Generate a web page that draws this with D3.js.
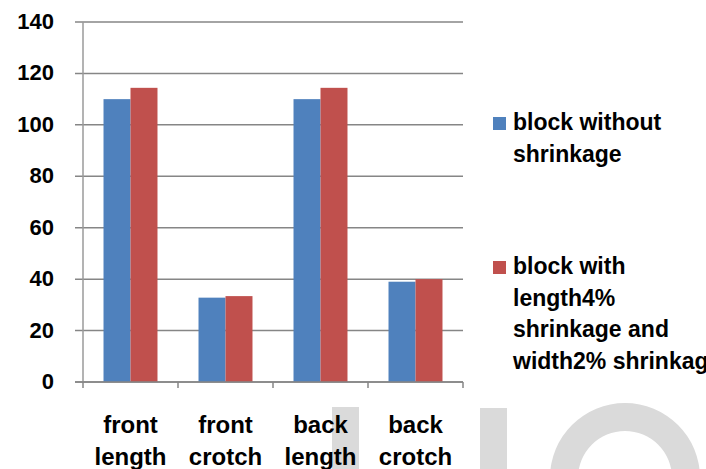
<!DOCTYPE html>
<html>
<head>
<meta charset="utf-8">
<script src="https://cdn.jsdelivr.net/npm/d3@7"></script>
<style>
  html, body { margin: 0; padding: 0; background: #fff; }
  svg { display: block; font-family: "Liberation Sans", Arial, sans-serif; }
</style>
</head>
<body>
<svg id="chart"></svg>
<script>
(function() {

// data
const categories = ["front length", "front crotch", "back length", "back crotch"];
const seriesNames = ["block without shrinkage", "block with length4% shrinkage and width2% shrinkage"];
const withoutShrinkage = [110, 32.8, 110, 39];
const withShrinkage = [114.4, 33.4, 114.4, 40];
const yTicks = [0, 20, 40, 60, 80, 100, 120, 140];
const legendLines = [
  ["block without", "shrinkage"],
  ["block with", "length4%", "shrinkage and", "width2% shrinkage"]
];

const W = 706, H = 469;
const plot = { left: 83, right: 463, top: 22, bottom: 382 };
const colors = ["#4f81bd", "#c0504d"];

const svg = d3.select("#chart")
    .attr("width", W)
    .attr("height", H);

// faint watermark pieces behind the chart
const wm = svg.append("g").attr("fill", "#dadada");
wm.append("rect").attr("x", 332).attr("y", 407).attr("width", 27).attr("height", 70);
wm.append("rect").attr("x", 480).attr("y", 408).attr("width", 27).attr("height", 70);
wm.append("path")
    .attr("transform", "translate(625,478)")
    .attr("d", d3.arc()({ innerRadius: 47, outerRadius: 75, startAngle: 0, endAngle: 2 * Math.PI }));

// scales
const x = d3.scaleBand()
    .domain(categories)
    .range([plot.left, plot.right])
    .padding(0);

const x1 = d3.scaleBand()
    .domain(d3.range(seriesNames.length))
    .range([0, x.bandwidth()])
    .paddingInner(0)
    .paddingOuter(0.76);

const y = d3.scaleLinear()
    .domain([0, 140])
    .range([plot.bottom, plot.top]);

// gridlines + y tick marks
svg.append("g")
    .selectAll("line")
    .data(yTicks)
    .enter().append("line")
    .attr("x1", plot.left - 8)
    .attr("x2", plot.right)
    .attr("y1", d => y(d))
    .attr("y2", d => y(d))
    .attr("stroke", "#868686")
    .attr("stroke-width", 1.5);

// y axis line
svg.append("line")
    .attr("x1", plot.left).attr("x2", plot.left)
    .attr("y1", y(140)).attr("y2", y(0))
    .attr("stroke", "#9a9a9a")
    .attr("stroke-width", 1.5);

// bars
const tableData = categories.map((c, i) => [withoutShrinkage[i], withShrinkage[i]]);

svg.append("g")
    .selectAll("g")
    .data(tableData)
    .enter().append("g")
    .attr("transform", (d, i) => `translate(${x(categories[i])},0)`)
    .selectAll("rect")
    .data(d => d)
    .enter().append("rect")
    .attr("x", (d, j) => x1(j))
    .attr("width", x1.bandwidth())
    .attr("y", d => y(d))
    .attr("height", d => y(0) - y(d))
    .attr("fill", (d, j) => colors[j]);

// x axis line and category ticks
svg.append("line")
    .attr("x1", plot.left - 8).attr("x2", plot.right)
    .attr("y1", y(0)).attr("y2", y(0))
    .attr("stroke", "#868686")
    .attr("stroke-width", 1.5);

const boundaries = categories.map(c => x(c)).concat([plot.right]);
svg.append("g")
    .selectAll("line")
    .data(boundaries)
    .enter().append("line")
    .attr("x1", d => d).attr("x2", d => d)
    .attr("y1", y(0)).attr("y2", y(0) + 6)
    .attr("stroke", "#868686")
    .attr("stroke-width", 1.5);

// y tick labels
svg.append("g")
    .selectAll("text")
    .data(yTicks)
    .enter().append("text")
    .attr("x", 54)
    .attr("y", d => y(d) + 7)
    .attr("text-anchor", "end")
    .style("font-size", "22px")
    .style("font-weight", "bold")
    .text(d => d);

// category labels, two lines each
svg.append("g")
    .selectAll("text")
    .data(categories)
    .enter().append("text")
    .attr("text-anchor", "middle")
    .style("font-size", "24px")
    .style("font-weight", "bold")
    .each(function(d) {
      const t = d3.select(this);
      d.split(" ").forEach((word, k) => {
        t.append("tspan")
          .attr("x", x(d) + x.bandwidth() / 2)
          .attr("y", 433 + k * 32)
          .text(word);
      });
    });

// legend
const legendTop = [117, 261];
const legend = svg.append("g");
legendLines.forEach((lines, i) => {
  legend.append("rect")
      .attr("x", 493)
      .attr("y", legendTop[i])
      .attr("width", 13)
      .attr("height", 13)
      .attr("fill", colors[i]);

  legend.append("text")
      .style("font-size", "23px")
      .style("font-weight", "bold")
      .selectAll("tspan")
      .data(lines)
      .enter().append("tspan")
      .attr("x", 513)
      .attr("y", (d, k) => legendTop[i] + 13 + k * 31.5)
      .text(d => d);
});

})();
</script>
</body>
</html>
